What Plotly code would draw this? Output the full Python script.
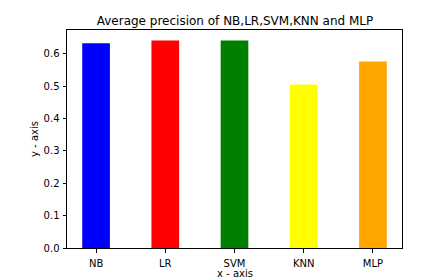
import plotly.graph_objects as go

categories = ["NB", "LR", "SVM", "KNN", "MLP"]
values = [0.632, 0.641, 0.641, 0.505, 0.576]
colors = ["blue", "red", "green", "yellow", "orange"]
yticks = [0.0, 0.1, 0.2, 0.3, 0.4, 0.5, 0.6]
ytick_labels = ["0.0", "0.1", "0.2", "0.3", "0.4", "0.5", "0.6"]

font = "DejaVu Sans"
W, H = 423, 278
L, R, T, B = 59, 29, 22, 38
pw, ph = W - L - R, H - T - B

fig = go.Figure(go.Bar(x=categories, y=values, marker=dict(color=colors, line=dict(width=0)), width=0.4))

ymax = max(values) * 1.05
fig.update_layout(
    width=W, height=H,
    margin=dict(l=L, r=R, t=T, b=B),
    paper_bgcolor="white", plot_bgcolor="white",
    showlegend=False,
    font=dict(family=font, size=10, color="#000000"),
    title=dict(text="Average precision of NB,LR,SVM,KNN and MLP", x=227 / W, xanchor="center",
               y=1 - 12.5 / H, yanchor="middle", font=dict(size=12, family=font, color="#000000")),
    xaxis=dict(type="category", range=[-0.42, 4.42], showline=True, linecolor="black", linewidth=1,
               mirror=True, ticks="outside", ticklen=3.5, tickwidth=0.8, tickcolor="black",
               ticklabelstandoff=2, showgrid=False, zeroline=False),
    yaxis=dict(range=[0, ymax], tickvals=yticks, ticktext=ytick_labels, showline=True,
               linecolor="black", linewidth=1, mirror=True, ticks="outside", ticklen=3.5,
               tickwidth=0.8, tickcolor="black", ticklabelstandoff=1, showgrid=False, zeroline=False),
    annotations=[
        dict(text="x - axis", xref="paper", yref="paper", x=(227 - L) / pw, y=-(265.5 - (H - B)) / ph,
             xanchor="center", yanchor="middle", showarrow=False, borderpad=0,
             font=dict(size=10, family=font, color="#000000")),
        dict(text="y - axis", xref="paper", yref="paper", x=-(L - 26) / pw, y=0.5,
             xanchor="center", yanchor="middle", textangle=-90, showarrow=False, borderpad=0,
             font=dict(size=10, family=font, color="#000000")),
    ],
)

fig.write_html("out.html")
